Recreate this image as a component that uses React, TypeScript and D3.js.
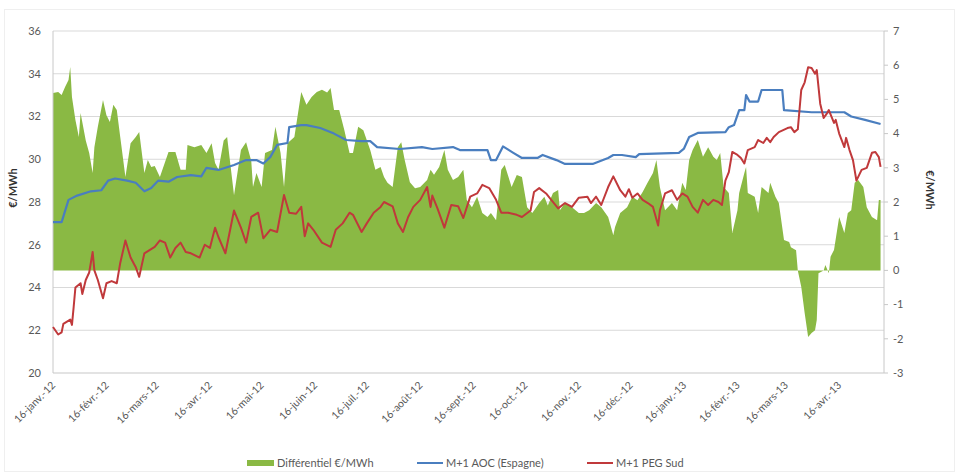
import React from "react";
import * as d3 from "d3";

// ---- data (day offsets from 16 Jan 2012) ----
const START = new Date(2012, 0, 16);
const END_DAYS = 482;

const blueDays = [0,5,9,14,22,28,32,36,43,48,53,57,61,67,72,80,86,89,96,105,112,118,122,126,130,136,137,144,147,155,163,170,179,184,188,201,214,220,232,236,252,254,257,261,267,272,281,284,292,297,313,322,325,330,338,340,363,366,369,374,390,392,395,398,401,402,404,409,411,423,424,440,459,463,471,480];
const blueVals = [27.06,27.06,28.1,28.3,28.5,28.55,29.0,29.1,29.0,28.9,28.5,28.65,29.0,28.95,29.17,29.26,29.2,29.6,29.5,29.73,29.96,29.96,29.8,30.1,30.67,30.76,31.5,31.6,31.6,31.46,31.2,30.9,30.85,30.85,30.57,30.48,30.57,30.48,30.57,30.43,30.43,29.96,29.96,30.6,30.3,30.06,30.06,30.2,29.96,29.78,29.78,30.06,30.2,30.2,30.1,30.24,30.3,30.5,31.04,31.23,31.27,31.5,31.6,32.3,32.3,33.0,32.7,32.7,33.24,33.24,32.3,32.2,32.2,32.0,31.84,31.65];

const redDays = [0,3,5,6,10,11,12,13,16,17,19,21,23,24,26,29,31,34,37,39,42,45,48,50,53,56,59,62,65,68,71,74,77,80,85,88,91,94,96,100,105,109,112,115,119,122,126,130,134,137,141,144,146,148,151,156,161,164,168,172,174,179,182,186,190,192,197,200,203,206,209,213,217,219,220,223,227,231,235,238,242,246,249,253,257,260,264,269,272,277,279,282,286,289,293,297,301,305,310,312,315,318,322,325,329,332,334,336,339,342,345,348,351,352,355,359,362,365,368,371,374,377,380,383,386,388,390,392,394,397,399,401,403,407,409,412,414,416,418,421,426,428,430,432,434,436,438,440,442,443,445,447,449,450,453,454,456,459,460,462,464,466,469,472,475,477,479,480];
const redVals = [22.15,21.8,21.9,22.3,22.5,22.25,23.1,24.0,24.2,23.7,24.35,24.7,25.66,24.8,24.35,23.5,24.2,24.3,24.2,25.15,26.2,25.4,24.95,24.5,25.6,25.75,25.9,26.2,26.1,25.4,25.85,26.1,25.66,25.6,25.4,26.0,25.85,26.8,26.35,25.6,27.6,26.8,26.1,27.3,27.5,26.3,26.7,26.6,28.33,27.5,27.45,27.77,26.4,27.0,26.7,26.1,25.9,26.7,27.0,27.5,27.4,26.6,27.0,27.5,27.77,28.0,27.8,27.0,26.6,27.3,27.77,28.1,28.7,27.77,28.3,27.7,26.8,27.86,27.8,27.25,28.25,28.4,28.8,28.65,28.1,27.5,27.5,27.4,27.3,27.6,28.47,28.65,28.4,28.1,27.7,27.95,27.77,28.2,28.25,27.95,28.25,27.86,28.7,29.2,28.55,28.25,28.6,28.2,28.4,28.1,27.95,27.77,26.9,27.6,28.4,28.55,28.1,28.4,28.25,27.77,27.5,28.1,27.86,28.1,28.0,27.86,29.0,29.4,30.34,30.2,30.06,29.8,30.43,30.57,30.9,30.76,31.0,30.8,31.04,31.27,31.46,31.5,31.27,31.4,33.24,33.6,34.3,34.27,34.0,34.17,32.6,31.93,32.16,32.3,31.7,31.84,31.2,30.57,31.0,30.43,29.96,29.0,29.5,29.6,30.3,30.34,30.1,29.64];

const greenDays = [0,3,5,7,9,10,11,13,15,16,19,21,23,24,26,29,31,33,35,37,39,42,45,48,50,53,55,57,59,62,67,71,74,77,78,82,86,89,92,94,96,99,101,105,109,112,115,116,118,121,123,127,129,132,134,136,140,144,147,150,153,156,159,161,163,166,169,172,174,177,180,184,187,190,192,194,197,200,202,204,207,210,213,217,219,221,224,227,229,232,235,238,240,243,246,249,252,254,257,260,262,266,269,272,275,278,282,285,287,290,293,294,297,301,305,308,311,315,318,322,325,326,329,333,336,339,342,345,348,350,352,355,359,362,365,367,369,371,374,377,380,383,385,387,389,392,394,397,398,401,402,403,407,409,411,413,415,416,419,421,424,427,428,431,432,434,436,438,440,442,443,444,447,448,450,451,453,456,459,461,463,465,467,470,472,475,478,479,480];
const greenVals = [5.19,5.22,5.13,5.36,5.57,5.95,5.07,4.4,3.9,4.6,3.8,3.43,2.85,3.6,4.2,4.98,4.54,4.34,4.84,4.69,3.9,2.73,3.72,3.9,4.05,2.85,3.23,3.02,3.05,2.73,3.46,3.46,2.94,2.94,3.67,3.6,3.67,3.43,3.72,3.14,2.94,3.8,3.9,2.2,3.52,3.75,3.2,2.44,2.85,2.44,3.43,3.52,4.2,3.43,2.44,3.72,3.9,5.22,4.84,5.07,5.22,5.28,5.2,5.33,4.69,4.69,4.1,3.43,3.43,4.2,4.1,3.52,2.94,3.02,2.73,2.56,2.44,3.6,3.75,3.23,2.58,2.4,2.44,2.64,2.94,2.8,3.02,3.52,2.94,2.64,2.73,2.94,2.06,1.85,2.15,1.68,1.56,1.68,1.47,2.94,3.08,2.44,2.79,2.73,1.85,1.68,1.97,2.15,1.9,2.26,2.35,1.76,1.97,1.85,1.68,1.68,1.76,1.97,1.85,1.56,1.03,1.27,1.68,1.85,2.15,2.05,2.29,2.58,2.85,3.23,2.44,1.76,1.97,1.76,2.56,2.35,3.23,3.52,3.81,3.32,3.6,3.32,3.23,3.43,2.44,2.26,1.09,1.76,2.26,2.85,3.02,2.26,2.15,1.68,2.44,2.35,2.26,2.56,2.15,1.97,0.89,0.83,0.68,0.59,0.0,-0.48,-1.25,-1.95,-1.83,-1.75,-1.45,-0.08,0.0,0.16,-0.08,0.4,0.6,1.56,1.09,1.68,1.76,2.56,2.64,2.44,1.85,1.56,1.47,2.06,2.06];

const leftTicks = [20, 22, 24, 26, 28, 30, 32, 34, 36];
const rightTicks = [-3, -2, -1, 0, 1, 2, 3, 4, 5, 6, 7];
const xTickLabels = ["16-janv.-12","16-févr.-12","16-mars-12","16-avr.-12","16-mai-12","16-juin-12","16-juil.-12","16-août-12","16-sept.-12","16-oct.-12","16-nov.-12","16-déc.-12","16-janv.-13","16-févr.-13","16-mars-13","16-avr.-13"];
const legendLabels = ["Différentiel €/MWh", "M+1 AOC (Espagne)", "M+1 PEG Sud"];

const GREEN = "#8ab944";
const BLUE = "#4a7ebf";
const RED = "#c0393b";
const FONT = "Lato, 'Open Sans', sans-serif";

export default function App() {
  const L = 53, R = 884, T = 31, B = 373;
  const toDate = (d: number) => d3.timeDay.offset(START, d);
  const x = d3.scaleTime().domain([START, toDate(END_DAYS)]).range([L, R]);
  const yL = d3.scaleLinear().domain([20, 36]).range([B, T]);
  const yR = d3.scaleLinear().domain([-3, 7]).range([B, T]);

  const green = greenDays.map((d, i) => ({ date: toDate(d), v: greenVals[i] }));
  const blue = blueDays.map((d, i) => ({ date: toDate(d), v: blueVals[i] }));
  const red = redDays.map((d, i) => ({ date: toDate(d), v: redVals[i] }));

  const area = d3.area<{ date: Date; v: number }>()
    .x((p) => x(p.date))
    .y0(yR(0))
    .y1((p) => yR(p.v));
  const lineL = d3.line<{ date: Date; v: number }>()
    .x((p) => x(p.date))
    .y((p) => yL(p.v));

  const xTicks = xTickLabels.map((_, i) => new Date(2012, i, 16));

  return (
    <svg width={959} height={475} style={{ position: "absolute", left: 0, top: 0, background: "#fff" }} fontFamily={FONT}>
      <rect x={4.5} y={9.5} width={950} height={462} fill="#fff" stroke="#efefef" />
      {/* gridlines */}
      {leftTicks.slice(1).map((t) => (
        <line key={t} x1={L} x2={R} y1={yL(t)} y2={yL(t)} stroke="#d9d9d9" strokeWidth={1.2} />
      ))}
      {/* area */}
      <path d={area(green) || ""} fill={GREEN} />
      {/* axes */}
      <line x1={L} x2={L} y1={T} y2={B} stroke="#c8c8c8" />
      <line x1={L} x2={R} y1={B} y2={B} stroke="#c8c8c8" strokeWidth={1.2} />
      <line x1={R} x2={R} y1={T} y2={B} stroke="#c8c8c8" />
      {rightTicks.map((t) => (
        <line key={t} x1={R} x2={R + 4} y1={yR(t)} y2={yR(t)} stroke="#c8c8c8" />
      ))}
      {/* lines */}
      <path d={lineL(blue) || ""} fill="none" stroke={BLUE} strokeWidth={2.2} strokeLinejoin="round" />
      <path d={lineL(red) || ""} fill="none" stroke={RED} strokeWidth={2} strokeLinejoin="round" />
      {/* left tick labels */}
      {leftTicks.map((t) => (
        <text key={t} x={41} y={yL(t)} dy="0.35em" textAnchor="end" fontSize={11} fill="#595959">{t}</text>
      ))}
      {/* right tick labels */}
      {rightTicks.map((t) => (
        <text key={t} x={893} y={yR(t)} dy="0.35em" textAnchor="start" fontSize={11} fill="#595959">{t}</text>
      ))}
      {/* axis titles */}
      <text transform={`translate(17,${(T + B) / 2 - 14}) rotate(-90)`} textAnchor="middle" fontSize={11} fontWeight="bold" fill="#333">€/MWh</text>
      <text transform={`translate(926,${(T + B) / 2 - 12}) rotate(90)`} textAnchor="middle" fontSize={11} fontWeight="bold" fill="#333">€/MWh</text>
      {/* x tick labels */}
      {xTicks.map((d, i) => (
        <text key={i} transform={`translate(${x(d) + 3},${B + 13}) rotate(-45)`} textAnchor="end" fontSize={10.5} fill="#595959">{xTickLabels[i]}</text>
      ))}
      {/* legend */}
      <g fontSize={11} fill="#595959">
        <rect x={247} y={460} width={27} height={6} fill={GREEN} />
        <text x={277} y={463} dy="0.35em">{legendLabels[0]}</text>
        <line x1={417} x2={443} y1={463} y2={463} stroke={BLUE} strokeWidth={2} />
        <text x={446} y={463} dy="0.35em">{legendLabels[1]}</text>
        <line x1={587} x2={613} y1={463} y2={463} stroke={RED} strokeWidth={2} />
        <text x={616} y={463} dy="0.35em">{legendLabels[2]}</text>
      </g>
    </svg>
  );
}
